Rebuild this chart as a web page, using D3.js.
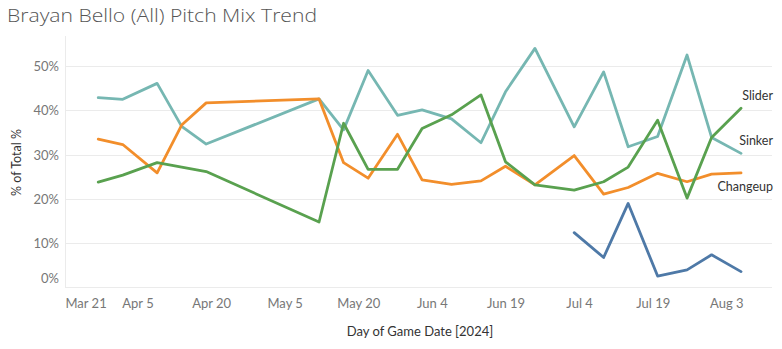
<!DOCTYPE html>
<html><head><meta charset="utf-8">
<script src="https://cdn.jsdelivr.net/npm/d3@7"></script>
<style>body{margin:0;background:#fff;} svg{display:block;font-family:Lato,"Open Sans",sans-serif;}</style>
</head><body>
<script>
const gameDates = ["2024-03-28","2024-04-02","2024-04-09","2024-04-14","2024-04-19","2024-05-12","2024-05-17","2024-05-22","2024-05-28","2024-06-02","2024-06-08","2024-06-14","2024-06-19","2024-06-25","2024-07-03","2024-07-09","2024-07-14","2024-07-20","2024-07-26","2024-07-31","2024-08-06"];
const sinker   = [42.9,42.5,46.1,36.4,32.4,42.6,35.6,49.0,38.9,40.1,38.1,32.7,44.2,54.0,36.3,48.7,31.8,34.1,52.5,33.9,30.3];
const changeup = [33.5,32.3,25.9,36.7,41.7,42.6,28.2,24.7,34.6,24.3,23.3,24.1,27.4,23.2,29.8,21.1,22.6,25.8,23.9,25.6,25.9];
const slider   = [23.8,25.4,28.2,27.2,26.2,14.8,37.1,26.7,26.7,35.9,39.0,43.5,28.4,23.2,22.0,23.9,27.2,37.8,20.2,33.9,40.5];
const cutter   = [null,null,null,null,null,null,null,null,null,null,null,null,null,null,12.4,6.8,19.0,2.6,4.0,7.4,3.6];
const yTicks = [0,10,20,30,40,50];
const xTickLabels = ["2024-03-21","2024-04-05","2024-04-20","2024-05-05","2024-05-20","2024-06-04","2024-06-19","2024-07-04","2024-07-19","2024-08-03"];
const seriesNames = ["Sinker","Changeup","Slider","Cutter"];
const seriesLabels = ["Sinker","Changeup","Slider",""];

const W=782,H=349;
const parse=d3.utcParse("%Y-%m-%d");
const plotL=65, plotR=772, plotT=36, plotB=287;
const x=d3.scaleUtc().domain([parse("2024-03-21"),parse("2024-08-03")]).range([63.9,726.3]);
const y=d3.scaleLinear().domain([0,50]).range([287.6,66.1]);

const svg=d3.select("body").append("svg").attr("width",W).attr("height",H);

svg.append("text").attr("x",7).attr("y",22).attr("font-size",19).attr("fill","#555")
  .attr("font-family","'Open Sans',sans-serif").attr("font-weight",300)
  .attr("textLength",310).attr("lengthAdjust","spacingAndGlyphs")
  .text("Brayan Bello (All) Pitch Mix Trend");

// gridlines
svg.append("g").selectAll("line").data(yTicks.filter(d=>d>0)).join("line")
  .attr("x1",plotL).attr("x2",plotR).attr("y1",d=>Math.round(y(d))+0.5).attr("y2",d=>Math.round(y(d))+0.5)
  .attr("stroke","#ebebeb").attr("stroke-width",1);
svg.append("line").attr("x1",plotL+0.5).attr("x2",plotL+0.5).attr("y1",plotT).attr("y2",plotB).attr("stroke","#ebebeb");
svg.append("line").attr("x1",plotL).attr("x2",plotR).attr("y1",plotB+0.5).attr("y2",plotB+0.5).attr("stroke","#ebebeb");

// y axis
const yAxis=d3.axisLeft(y).tickValues(yTicks).tickSize(0).tickFormat(d=>d+"%");
const ya=svg.append("g").attr("transform","translate(59,0)").call(yAxis);
ya.select(".domain").remove();
ya.selectAll("text").attr("font-size",13).attr("fill","#777").attr("font-family","Lato,sans-serif").attr("x",0)
  .attr("dy","0.35em").attr("y",d=>d===0?-10:0);

// x axis
const xAxis=d3.axisBottom(x).tickValues(xTickLabels.map(parse)).tickSize(0).tickFormat(d3.utcFormat("%b %-d"));
const xa=svg.append("g").attr("transform","translate(0,296)").call(xAxis);
xa.select(".domain").remove();
xa.selectAll("text").attr("font-size",13).attr("fill","#777").attr("font-family","Lato,sans-serif").attr("dy","0.71em")
  .attr("text-anchor",(d,i)=>i===0?"start":"middle").attr("x",(d,i)=>i===0?1.1:0);

svg.append("text").attr("transform","translate(21,162.5) rotate(-90)").attr("text-anchor","middle")
  .attr("font-size",12.5).attr("fill","#333").text("% of Total %");
svg.append("text").attr("x",420).attr("y",336).attr("text-anchor","middle")
  .attr("font-size",13).attr("fill","#333").text("Day of Game Date [2024]");

const colors={Sinker:"#76b7b2",Changeup:"#f28e2b",Slider:"#59a14f",Cutter:"#4e79a7"};
const allSeries=[sinker,changeup,slider,cutter];
const line=d3.line().defined(d=>d.v!=null).x(d=>x(d.date)).y(d=>y(d.v));
const order=[3,0,1,2];
order.forEach(i=>{
  const pts=gameDates.map((g,j)=>({date:parse(g),v:allSeries[i][j]}));
  svg.append("path").datum(pts).attr("d",line).attr("fill","none")
    .attr("stroke",colors[seriesNames[i]]).attr("stroke-width",2.8).attr("stroke-linejoin","round").attr("stroke-linecap","round");
});

// end labels (right-aligned, nudged off the line ends)
const labelOffsets={Slider:[32,-12.5],Sinker:[32,-12.5],Changeup:[32,14]};
[0,1,2].forEach(i=>{
  const n=seriesNames[i], last=gameDates.length-1;
  const px=x(parse(gameDates[last])), py=y(allSeries[i][last]);
  svg.append("text").attr("x",px+labelOffsets[n][0]).attr("y",py+labelOffsets[n][1]).attr("dy","0.35em")
    .attr("text-anchor","end").attr("font-size",12.5).attr("fill","#333").text(seriesLabels[i]);
});
</script>
</body></html>
